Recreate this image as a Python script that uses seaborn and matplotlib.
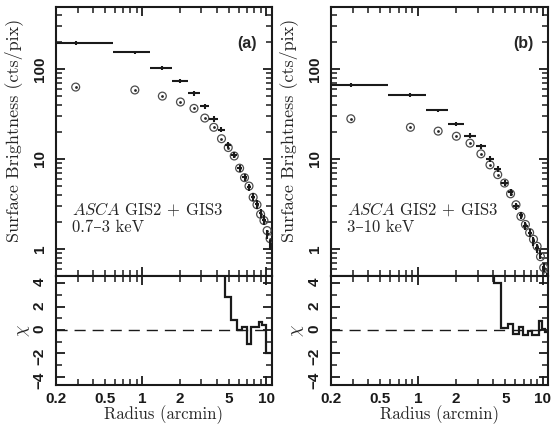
import matplotlib
matplotlib.use("Agg")
import matplotlib.pyplot as plt
import seaborn as sns
import numpy as np
from matplotlib.ticker import LogLocator, FuncFormatter, MultipleLocator, NullFormatter

# Radial bins in arcmin (lower edge, upper edge, centre)
bin_lo = [0.0, 0.58, 1.16, 1.74, 2.32, 2.90, 3.48, 4.06, 4.64, 5.22,
          5.80, 6.38, 6.96, 7.54, 8.12, 8.70, 9.28, 9.86, 10.44]
bin_hi = [0.58, 1.16, 1.74, 2.32, 2.90, 3.48, 4.06, 4.64, 5.22, 5.80,
          6.38, 6.96, 7.54, 8.12, 8.70, 9.28, 9.86, 10.44, 11.02]
radius = [0.29, 0.87, 1.45, 2.03, 2.61, 3.19, 3.77, 4.35, 4.93, 5.51,
          6.09, 6.67, 7.25, 7.83, 8.41, 8.99, 9.57, 10.15, 10.73]

# 0.7-3 keV band
soft_points = [63, 58.5, 50, 43, 36.5, 28.5, 22.5, 16.8, 13.4, 10.8,
               7.9, 6.2, 5.0, 3.75, 3.1, 2.43, 2.07, 1.6, 1.3]
soft_bars = [193, 153, 103, 74, 54, 38.5, 27.8, 21.2, 14.3, 11.1,
             7.9, 6.27, 4.85, 3.8, 3.13, 2.5, 2.12, 1.45, 1.12]
soft_chi = [9, 9, 9, 9, 9, 9, 9, 9, 2.8, 0.9,
            0.0, 0.25, -1.2, 0.3, 0.3, 0.7, 0.4, -2.0, -2.0]

# 3-10 keV band
hard_points = [28, 22.5, 20.4, 17.9, 15, 11.4, 8.6, 6.7, 5.4, 4.1,
               3.1, 2.3, 1.87, 1.52, 1.28, 1.07, 0.82, 0.62, 0.5]
hard_bars = [67, 51.6, 34.6, 24.6, 18.2, 13.8, 10, 7.8, 5.45, 4.25,
             3.0, 2.38, 1.8, 1.5, 1.22, 1.02, 0.87, 0.63, 0.48]
hard_chi = [9, 9, 9, 9, 9, 9, 9, 4.0, 0.15, 0.5,
            -0.3, 0.3, -0.4, -0.1, -0.45, -0.45, 0.76, 0.05, -0.2]

# fractional 1-sigma errors on the binned profile
bar_frac_err = [0.05, 0.05, 0.05, 0.05, 0.06, 0.06, 0.07, 0.07, 0.08, 0.08,
                0.09, 0.09, 0.10, 0.10, 0.11, 0.11, 0.12, 0.12, 0.13]

panel_tags = ["(a)", "(b)"]
band_labels = ["0.7\u20133 keV", "3\u201310 keV"]

sns.set_theme(style="ticks")
plt.rcParams.update({
    "font.family": ["Liberation Sans", "DejaVu Sans"],
    "font.weight": "bold",
    "mathtext.fontset": "cm",
    "axes.linewidth": 1.5,
    "axes.edgecolor": "k",
    "xtick.direction": "in",
    "ytick.direction": "in",
    "xtick.top": True,
    "ytick.right": True,
    "xtick.color": "k",
    "ytick.color": "k",
    "xtick.labelcolor": "k",
    "ytick.labelcolor": "k",
    "xtick.labelsize": 11,
    "ytick.labelsize": 11,
    "xtick.major.size": 6.5,
    "ytick.major.size": 6.5,
    "xtick.minor.size": 4,
    "ytick.minor.size": 4,
    "xtick.major.width": 1.3,
    "ytick.major.width": 1.3,
    "xtick.minor.width": 1.1,
    "ytick.minor.width": 1.1,
    "xtick.major.pad": 5,
    "xtick.minor.pad": 5,
    "ytick.major.pad": 6.5,
    "ytick.minor.pad": 6.5,
})

SERIF = dict(family=["cmr10", "DejaVu Serif"], fontweight="normal")

fig = plt.figure(figsize=(5.53, 4.28), dpi=100)
lefts = [0.1007, 0.598]
widths = [0.3906, 0.3935]
top_box = (0.3551, 0.6285)
bot_box = (0.1005, 0.2547)

XMIN, XMAX = 0.2, 11.05


def x_label_fmt(v, _):
    r = round(v, 3)
    return f"{r:g}" if r in (0.2, 0.5, 1.0, 2.0, 5.0, 10.0) else ""


for i, (points, bars, chi) in enumerate([(soft_points, soft_bars, soft_chi),
                                         (hard_points, hard_bars, hard_chi)]):
    ax = fig.add_axes([lefts[i], top_box[0], widths[i], top_box[1]])
    axr = fig.add_axes([lefts[i], bot_box[0], widths[i], bot_box[1]])
    for a in (ax, axr):
        a.set_facecolor("white")
        a.set_xscale("log")
        a.set_xlim(XMIN, XMAX)

    # binned profile: horizontal bars span the radial bin
    xlo = np.array(radius) - np.maximum(np.array(bin_lo), 0.15)
    xhi = np.array(bin_hi) - np.array(radius)
    yerr = np.array(bars) * np.array(bar_frac_err)
    ax.errorbar(radius, bars, xerr=[xlo, xhi], yerr=yerr, fmt="none",
                ecolor="k", elinewidth=1.5, capsize=0, zorder=4)

    # data points: open circles with a central dot
    sns.scatterplot(x=radius, y=points, ax=ax, marker="o", s=32,
                    facecolor="none", edgecolor="0.3", linewidth=0.9,
                    zorder=3, legend=False)
    sns.scatterplot(x=radius, y=points, ax=ax, marker="o", s=4,
                    color="0.15", linewidth=0, zorder=3, legend=False)

    ax.set_yscale("log")
    ax.set_ylim(0.5, 489)
    ax.yaxis.set_major_locator(LogLocator(base=10))
    ax.yaxis.set_minor_locator(LogLocator(base=10, subs=np.arange(2, 10)))
    ax.yaxis.set_minor_formatter(NullFormatter())
    ax.yaxis.set_major_formatter(FuncFormatter(lambda v, _: f"{v:g}"))
    ax.xaxis.set_major_locator(LogLocator(base=10))
    ax.xaxis.set_minor_locator(LogLocator(base=10, subs=np.arange(2, 10)))
    ax.xaxis.set_major_formatter(NullFormatter())
    ax.xaxis.set_minor_formatter(NullFormatter())
    ax.tick_params(axis="y", labelrotation=90)
    for lab in ax.get_yticklabels():
        lab.set_va("center")

    ax.set_ylabel("Surface Brightness (cts/pix)", fontsize=13, **SERIF)
    ax.yaxis.label.set_va("center")
    ax.yaxis.set_label_coords(-0.193, 0.543)

    ax.text(0.075, 0.227, r"$\mathit{ASCA}$ GIS2 + GIS3", transform=ax.transAxes,
            fontsize=12, va="baseline", ha="left", **SERIF)
    ax.text(0.075, 0.162, band_labels[i], transform=ax.transAxes,
            fontsize=12, va="baseline", ha="left", **SERIF)
    ax.text(0.885, 0.864, panel_tags[i], transform=ax.transAxes,
            fontsize=11.5, fontweight="bold", ha="center", va="center")

    # residuals in units of sigma
    edges = [max(e, 0.15) for e in bin_lo] + [bin_hi[-1]]
    axr.stairs(chi, edges, baseline=None, color="k", linewidth=1.6, zorder=3)
    axr.axhline(0, color="k", linewidth=1.0, linestyle=(0, (8, 5)), zorder=2)
    axr.set_ylim(-4.7, 4.63)
    axr.yaxis.set_major_locator(MultipleLocator(2))
    axr.yaxis.set_minor_locator(MultipleLocator(1))
    axr.yaxis.set_major_formatter(FuncFormatter(lambda v, _: f"{v:g}".replace("-", "\u2212")))
    axr.xaxis.set_major_locator(LogLocator(base=10))
    axr.xaxis.set_minor_locator(LogLocator(base=10, subs=np.arange(2, 10)))
    axr.xaxis.set_major_formatter(FuncFormatter(x_label_fmt))
    axr.xaxis.set_minor_formatter(FuncFormatter(x_label_fmt))
    axr.tick_params(axis="y", labelrotation=90)

    axr.set_ylabel(r"$\chi$", fontsize=13, fontweight="normal")
    axr.yaxis.label.set_va("center")
    axr.yaxis.set_label_coords(-0.151, 0.495)
    axr.set_xlabel("Radius (arcmin)", fontsize=12, **SERIF)
    axr.xaxis.label.set_va("center")
    axr.xaxis.set_label_coords(0.5, -0.275)

    for a in (ax, axr):
        for s in a.spines.values():
            s.set_color("k")
            s.set_linewidth(1.5)

fig.savefig("out.png", dpi=100, facecolor="white")
